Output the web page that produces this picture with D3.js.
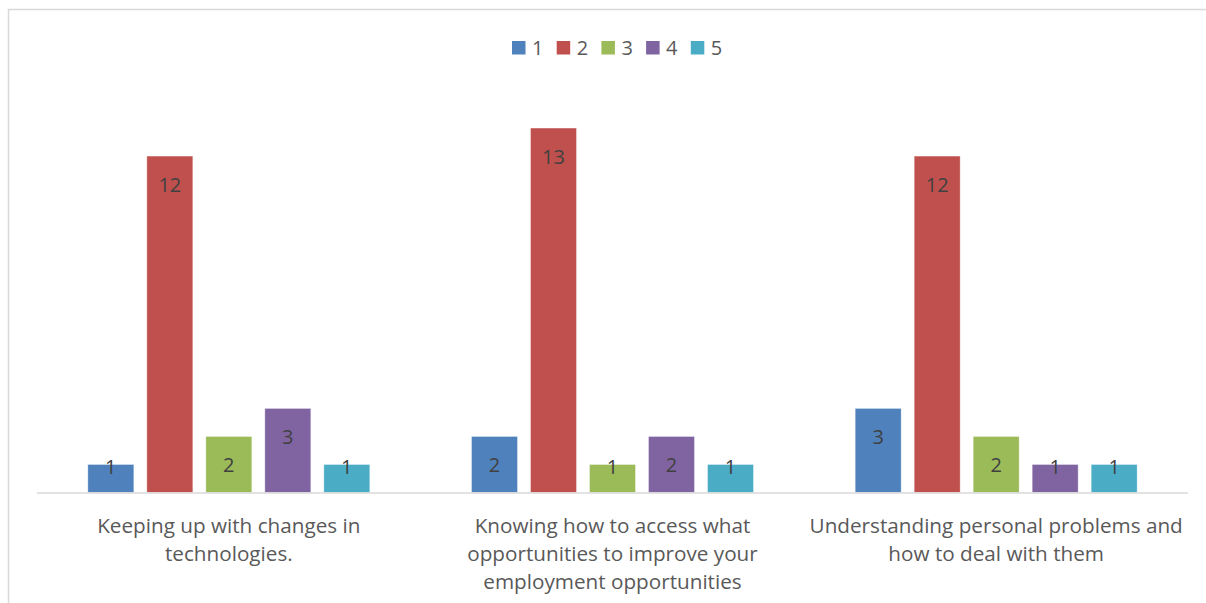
<!DOCTYPE html>
<html>
<head>
<meta charset="utf-8">
<script src="https://cdn.jsdelivr.net/npm/d3@7"></script>
<style>
  html, body { margin: 0; padding: 0; background: #ffffff; }
  svg { display: block; }
  text { font-family: "Open Sans", "Segoe UI", sans-serif; }
</style>
</head>
<body>
<svg id="chart" width="1206" height="603"></svg>
<script>
// Survey responses: count of ratings (1–5) for each topic
const categories = [
  "Keeping up with changes in technologies.",
  "Knowing how to access what opportunities to improve your employment opportunities",
  "Understanding personal problems and how to deal with them"
];
// Category tick labels, broken into lines as displayed under the axis
const categoryLines = [
  ["Keeping up with changes in", "technologies."],
  ["Knowing how to access what", "opportunities to improve your", "employment opportunities"],
  ["Understanding personal problems and", "how to deal with them"]
];
const seriesNames = ["1", "2", "3", "4", "5"];
const series1 = [1, 2, 3];
const series2 = [12, 13, 12];
const series3 = [2, 1, 2];
const series4 = [3, 2, 1];
const series5 = [1, 1, 1];
const seriesValues = [series1, series2, series3, series4, series5];
const seriesColors = ["#4F81BD", "#C0504D", "#9BBB59", "#8064A2", "#4BACC6"];

const svg = d3.select("#chart");

// Outer chart border (only top and left edges fall inside the view)
svg.append("rect")
  .attr("x", 8.5).attr("y", 9.5)
  .attr("width", 1400).attr("height", 800)
  .attr("fill", "none")
  .attr("stroke", "#D9D9D9")
  .attr("stroke-width", 1.5);

const plot = { left: 37, right: 1188, top: 100, bottom: 492.5 };

const x0 = d3.scaleBand()
  .domain(d3.range(categories.length))
  .range([plot.left, plot.right])
  .paddingInner(0).paddingOuter(0);

const x1 = d3.scaleBand()
  .domain(seriesNames)
  .range([0, x0.bandwidth()])
  .paddingInner(0.2203)
  .paddingOuter(0.8617);

const y = d3.scaleLinear()
  .domain([0, 14])
  .range([plot.bottom, plot.top]);

// Bars
const groups = svg.append("g").selectAll("g")
  .data(categories.map((c, i) => i))
  .join("g")
  .attr("transform", i => `translate(${x0(i)},0)`);

const cells = groups.selectAll("g.cell")
  .data(i => seriesNames.map((s, k) => ({ s, k, v: seriesValues[k][i] })))
  .join("g").attr("class", "cell");

cells.append("rect")
  .attr("x", d => x1(d.s))
  .attr("y", d => y(d.v))
  .attr("width", x1.bandwidth())
  .attr("height", d => y(0) - y(d.v))
  .attr("fill", d => seriesColors[d.k])
  .attr("stroke", "#ffffff")
  .attr("stroke-opacity", 0.5)
  .attr("stroke-width", 0.75);

// Value labels, inside the bar end (kept clear of the baseline)
const labelSize = 20;
cells.append("text")
  .attr("x", d => x1(d.s) + x1.bandwidth() / 2)
  .attr("y", d => Math.min(y(d.v) + 28.5, y(0) - 25.5) + 0.357 * labelSize)
  .attr("text-anchor", "middle")
  .attr("font-size", labelSize)
  .attr("fill", "#404040")
  .text(d => d.v);

// Category axis baseline
svg.append("line")
  .attr("x1", plot.left).attr("x2", plot.right)
  .attr("y1", y(0) + 0.5).attr("y2", y(0) + 0.5)
  .attr("stroke", "#D9D9D9")
  .attr("stroke-width", 1.5);

// Category labels
const catG = svg.append("g");
categoryLines.forEach((lines, i) => {
  const cx = x0(i) + x0.bandwidth() / 2;
  const t = catG.append("text")
    .attr("x", cx)
    .attr("y", 533)
    .attr("text-anchor", "middle")
    .attr("font-size", 20.7)
    .attr("fill", "#595959");
  lines.forEach((ln, j) => {
    t.append("tspan")
      .attr("x", cx)
      .attr("dy", j === 0 ? 0 : 28)
      .text(ln);
  });
});

// Legend
const legend = svg.append("g").attr("transform", "translate(512,41)");
const items = legend.selectAll("g")
  .data(seriesNames)
  .join("g")
  .attr("transform", (d, k) => `translate(${k * 44.7},0)`);
items.append("rect")
  .attr("width", 13.5).attr("height", 13.5)
  .attr("fill", (d, k) => seriesColors[k]);
items.append("text")
  .attr("x", 20)
  .attr("y", 7 + 0.357 * 20)
  .attr("font-size", 20)
  .attr("fill", "#595959")
  .text(d => d);
</script>
</body>
</html>
